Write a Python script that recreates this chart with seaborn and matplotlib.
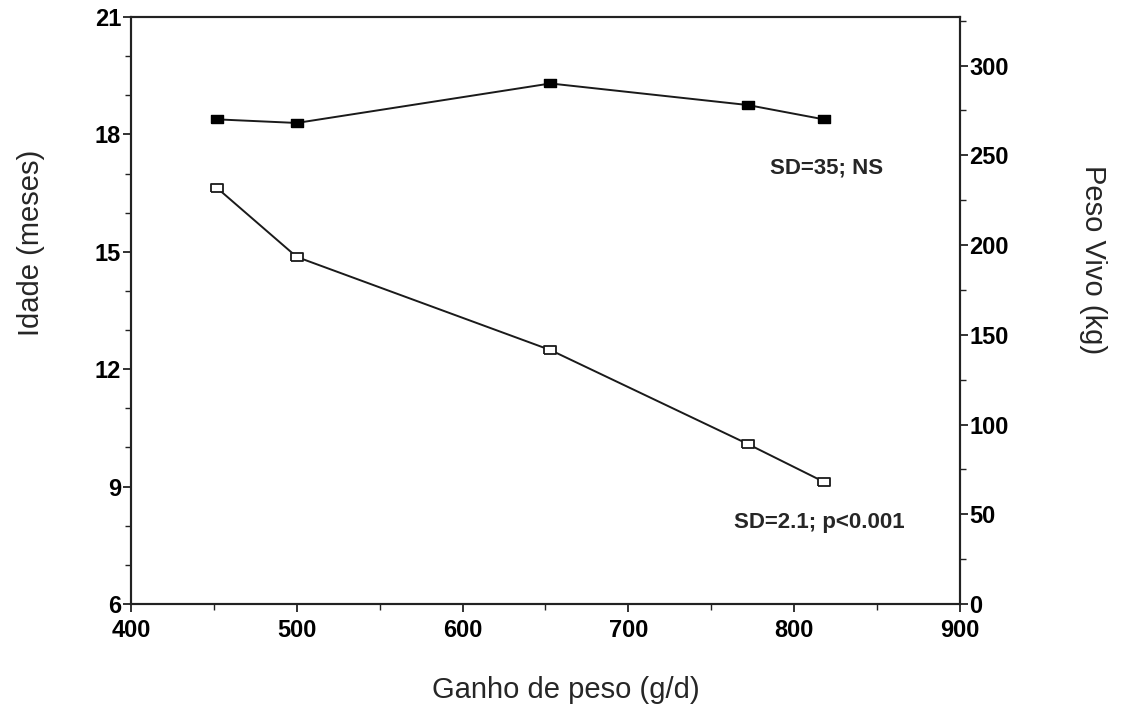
import matplotlib
matplotlib.use("Agg")
import matplotlib.pyplot as plt
from matplotlib.ticker import MultipleLocator
import seaborn as sns
import pandas as pd

# Average daily gain (g/d) for each group
ganho = [452, 500, 653, 772, 818]
# Age at first calving (months) - left axis
idade = [16.63, 14.87, 12.49, 10.09, 9.12]
# Live weight (kg) - right axis
peso = [270, 268, 290, 278, 270]

x_ticks = [400, 500, 600, 700, 800, 900]
idade_ticks = [6, 9, 12, 15, 18, 21]
peso_ticks = [0, 50, 100, 150, 200, 250, 300]

sns.set_style("ticks")
plt.rcParams["font.family"] = ["Liberation Sans", "DejaVu Sans"]

fig = plt.figure(figsize=(11.24, 7.11), dpi=100)
ax = fig.add_axes([0.1165, 0.1505, 0.7375, 0.8255])
ax2 = ax.twinx()

# flat rectangular marker
rect = [(-1.5, -1), (1.5, -1), (1.5, 1), (-1.5, 1), (-1.5, -1)]

df = pd.DataFrame({"ganho": ganho, "idade": idade, "peso": peso})

sns.lineplot(data=df, x="ganho", y="idade", ax=ax, color="#1a1a1a",
             linewidth=1.4, marker=rect, markersize=9,
             markerfacecolor="white", markeredgecolor="#1a1a1a",
             markeredgewidth=1.3)
sns.lineplot(data=df, x="ganho", y="peso", ax=ax2, color="#1a1a1a",
             linewidth=1.4, marker=rect, markersize=9,
             markerfacecolor="black", markeredgecolor="black",
             markeredgewidth=1.0)

ax.set_xlim(400, 900)
ax.set_ylim(6, 21)
ax2.set_ylim(0, 327)

ax.set_xticks(x_ticks)
ax.set_yticks(idade_ticks)
ax2.set_yticks(peso_ticks)
ax.xaxis.set_minor_locator(MultipleLocator(50))
ax.yaxis.set_minor_locator(MultipleLocator(1))
ax2.yaxis.set_minor_locator(MultipleLocator(25))

for a in (ax, ax2):
    for s in a.spines.values():
        s.set_visible(True)
        s.set_linewidth(1.5)
        s.set_color("#222222")
    a.tick_params(which="major", direction="out", length=6, width=1.3,
                  labelsize=17, colors="#222222", pad=1)
    a.tick_params(which="minor", direction="out", length=4, width=1.0,
                  colors="#222222")
    for lbl in a.get_xticklabels() + a.get_yticklabels():
        lbl.set_fontweight("bold")
        lbl.set_color("black")

ax.tick_params(axis="x", which="major", pad=5)

ax.set_xlabel("Ganho de peso (g/d)", fontsize=21, va="center")
ax.xaxis.set_label_coords(0.525, -0.147)
ax.set_ylabel("Idade (meses)", fontsize=21, va="center")
ax.yaxis.set_label_coords(-0.120, 0.615)
ax2.set_ylabel("Peso Vivo (kg)", fontsize=21, rotation=270, va="center")
ax2.yaxis.set_label_coords(1.160, 0.586)

ax.text(0.8396, 0.743, "SD=35; NS", transform=ax.transAxes,
        ha="center", va="center", fontsize=16, fontweight="bold")
ax.text(0.831, 0.1397, "SD=2.1; p<0.001", transform=ax.transAxes,
        ha="center", va="center", fontsize=16, fontweight="bold")

fig.savefig("out.png", dpi=100)
